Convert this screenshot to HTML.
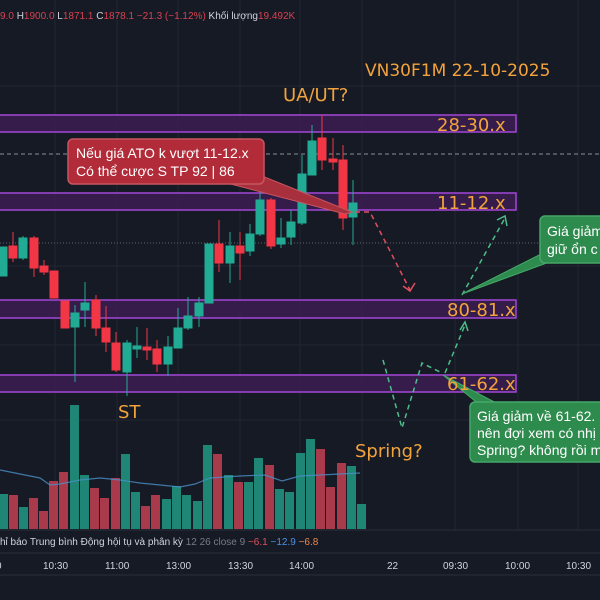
<!DOCTYPE html>
<html><head><meta charset="utf-8"><style>
html,body{margin:0;padding:0;background:#161a25;}
svg{display:block;font-family:"Liberation Sans","DejaVu Sans",sans-serif;}
</style></head><body>
<svg width="600" height="600" viewBox="0 0 600 600" xmlns="http://www.w3.org/2000/svg">
<rect width="600" height="600" fill="#161a25"/>
<g stroke="#222632" stroke-width="1">
<line x1="55" y1="0" x2="55" y2="530"/><line x1="117" y1="0" x2="117" y2="530"/><line x1="178" y1="0" x2="178" y2="530"/><line x1="240" y1="0" x2="240" y2="530"/><line x1="300" y1="0" x2="300" y2="530"/><line x1="362" y1="0" x2="362" y2="530"/><line x1="455" y1="0" x2="455" y2="530"/><line x1="518" y1="0" x2="518" y2="530"/><line x1="578" y1="0" x2="578" y2="530"/>
<line x1="0" y1="86" x2="600" y2="86"/><line x1="0" y1="266" x2="600" y2="266"/><line x1="0" y1="345" x2="600" y2="345"/><line x1="0" y1="420" x2="600" y2="420"/>
</g>
<text x="0" y="19" font-size="10" fill="#d9414f">9.0 <tspan fill="#d1d4dc">H</tspan>1900.0 <tspan fill="#d1d4dc">L</tspan>1871.1 <tspan fill="#d1d4dc">C</tspan>1878.1 −21.3 (−1.12%) <tspan fill="#d1d4dc">Khối lượng</tspan>19.492K</text>
<g fill="#3b1d52" fill-opacity="0.85" stroke="#a347d6" stroke-width="1.5">
<rect x="-2" y="115" width="518" height="17"/>
<rect x="-2" y="193" width="518" height="17"/>
<rect x="-2" y="300" width="518" height="18"/>
<rect x="-2" y="375" width="518" height="17"/>
</g>
<line x1="0" y1="154" x2="600" y2="154" stroke="#8a8e99" stroke-dasharray="4,3" stroke-width="1"/>
<line x1="0" y1="243" x2="600" y2="243" stroke="#5d616b" stroke-dasharray="1,2" stroke-width="1"/>
<g stroke-width="1">
<g stroke="#22ab94" fill="#22ab94"><rect x="-1" y="247" width="8" height="29"/></g>
<g stroke="#f23645" fill="#f23645"><line x1="13" y1="232" x2="13" y2="262"/><rect x="9" y="246" width="8" height="12"/></g>
<g stroke="#22ab94" fill="#22ab94"><line x1="23" y1="236" x2="23" y2="260"/><rect x="19" y="238" width="8" height="20"/></g>
<g stroke="#f23645" fill="#f23645"><line x1="34" y1="236" x2="34" y2="277"/><rect x="30" y="238" width="8" height="30"/></g>
<g stroke="#f23645" fill="#f23645"><line x1="44" y1="260" x2="44" y2="275"/><rect x="40" y="266" width="8" height="6"/></g>
<g stroke="#f23645" fill="#f23645"><rect x="50" y="271" width="8" height="27"/></g>
<g stroke="#f23645" fill="#f23645"><rect x="61" y="301" width="8" height="27"/></g>
<g stroke="#22ab94" fill="#22ab94"><line x1="75" y1="305" x2="75" y2="382"/><rect x="71" y="313" width="8" height="14"/></g>
<g stroke="#22ab94" fill="#22ab94"><line x1="85" y1="282" x2="85" y2="327"/><rect x="81" y="303" width="8" height="7"/></g>
<g stroke="#f23645" fill="#f23645"><line x1="96" y1="295" x2="96" y2="336"/><rect x="92" y="300" width="8" height="28"/></g>
<g stroke="#f23645" fill="#f23645"><line x1="106" y1="306" x2="106" y2="352"/><rect x="102" y="328" width="8" height="14"/></g>
<g stroke="#f23645" fill="#f23645"><line x1="116" y1="332" x2="116" y2="372"/><rect x="112" y="343" width="8" height="27"/></g>
<g stroke="#22ab94" fill="#22ab94"><line x1="127" y1="340" x2="127" y2="396"/><rect x="123" y="343" width="8" height="29"/></g>
<g stroke="#22ab94" fill="#22ab94"><line x1="137" y1="327" x2="137" y2="358"/><rect x="133" y="346" width="8" height="3"/></g>
<g stroke="#f23645" fill="#f23645"><line x1="147" y1="328" x2="147" y2="360"/><rect x="143" y="347" width="8" height="3"/></g>
<g stroke="#f23645" fill="#f23645"><line x1="157" y1="340" x2="157" y2="372"/><rect x="153" y="349" width="8" height="15"/></g>
<g stroke="#22ab94" fill="#22ab94"><line x1="168" y1="336" x2="168" y2="376"/><rect x="164" y="347" width="8" height="17"/></g>
<g stroke="#22ab94" fill="#22ab94"><line x1="178" y1="308" x2="178" y2="348"/><rect x="174" y="328" width="8" height="20"/></g>
<g stroke="#22ab94" fill="#22ab94"><line x1="188" y1="297" x2="188" y2="330"/><rect x="184" y="316" width="8" height="12"/></g>
<g stroke="#22ab94" fill="#22ab94"><line x1="199" y1="297" x2="199" y2="327"/><rect x="195" y="303" width="8" height="13"/></g>
<g stroke="#22ab94" fill="#22ab94"><rect x="205" y="244" width="8" height="59"/></g>
<g stroke="#f23645" fill="#f23645"><line x1="219" y1="220" x2="219" y2="272"/><rect x="215" y="244" width="8" height="19"/></g>
<g stroke="#22ab94" fill="#22ab94"><line x1="230" y1="232" x2="230" y2="283"/><rect x="226" y="246" width="8" height="17"/></g>
<g stroke="#f23645" fill="#f23645"><line x1="240" y1="232" x2="240" y2="280"/><rect x="236" y="246" width="8" height="7"/></g>
<g stroke="#22ab94" fill="#22ab94"><line x1="250" y1="224" x2="250" y2="256"/><rect x="246" y="234" width="8" height="17"/></g>
<g stroke="#22ab94" fill="#22ab94"><line x1="260" y1="188" x2="260" y2="236"/><rect x="256" y="200" width="8" height="34"/></g>
<g stroke="#f23645" fill="#f23645"><line x1="271" y1="198" x2="271" y2="249"/><rect x="267" y="200" width="8" height="46"/></g>
<g stroke="#22ab94" fill="#22ab94"><line x1="281" y1="218" x2="281" y2="248"/><rect x="277" y="238" width="8" height="6"/></g>
<g stroke="#22ab94" fill="#22ab94"><line x1="291" y1="210" x2="291" y2="245"/><rect x="287" y="222" width="8" height="15"/></g>
<g stroke="#22ab94" fill="#22ab94"><line x1="302" y1="155" x2="302" y2="225"/><rect x="298" y="174" width="8" height="49"/></g>
<g stroke="#22ab94" fill="#22ab94"><line x1="312" y1="125" x2="312" y2="175"/><rect x="308" y="141" width="8" height="34"/></g>
<g stroke="#f23645" fill="#f23645"><line x1="322" y1="115" x2="322" y2="170"/><rect x="318" y="138" width="8" height="22"/></g>
<g stroke="#f23645" fill="#f23645"><line x1="333" y1="138" x2="333" y2="170"/><rect x="329" y="159" width="8" height="3"/></g>
<g stroke="#f23645" fill="#f23645"><line x1="343" y1="145" x2="343" y2="230"/><rect x="339" y="160" width="8" height="58"/></g>
<g stroke="#22ab94" fill="#22ab94"><line x1="353" y1="180" x2="353" y2="245"/><rect x="349" y="203" width="8" height="14"/></g>
</g>
<polygon points="200,176 262,176 352,212 345,214" fill="#a8303c" stroke="#c85560" stroke-width="1"/>
<rect x="68" y="139" width="196" height="45" rx="5" fill="#b22b38" stroke="#c85560" stroke-width="1.5"/>
<text x="76" y="158" font-size="14" fill="#ffffff">Nếu giá ATO k vượt 11-12.x</text>
<text x="76" y="176" font-size="14" fill="#ffffff">Có thể cược S TP 92 | 86</text>
<polyline points="355,212 370,212 410,290" fill="none" stroke="#e0505e" stroke-width="1.5" stroke-dasharray="5,4"/>
<polyline points="403,286 410,291 415,283" fill="none" stroke="#e0505e" stroke-width="1.5"/>
<polyline points="383,360 402,428 422,363 440,372" fill="none" stroke="#4dbd8a" stroke-width="1.5" stroke-dasharray="5,4"/>
<polyline points="445,373 465,325" fill="none" stroke="#4dbd8a" stroke-width="1.5" stroke-dasharray="5,4"/>
<polyline points="460,330 465,322 468,331" fill="none" stroke="#4dbd8a" stroke-width="1.5"/>
<polyline points="462,295 505,218" fill="none" stroke="#4dbd8a" stroke-width="1.5" stroke-dasharray="5,4"/>
<polyline points="497,220 505,216 507,226" fill="none" stroke="#4dbd8a" stroke-width="1.5"/>
<polygon points="462,294 545,252 555,260" fill="#2e8b4e" stroke="#45a868" stroke-width="1"/>
<rect x="540" y="216" width="70" height="47" rx="5" fill="#2e8b4e" stroke="#45a868" stroke-width="1.5"/>
<text x="547" y="236" font-size="14" fill="#ffffff">Giá giảm</text>
<text x="547" y="254" font-size="14" fill="#ffffff">giữ ổn c</text>
<polygon points="443,375 480,405 500,405" fill="#2e8b4e" stroke="#45a868" stroke-width="1"/>
<rect x="470" y="402" width="140" height="60" rx="5" fill="#2e8b4e" stroke="#45a868" stroke-width="1.5"/>
<text x="477" y="421" font-size="14" fill="#ffffff">Giá giảm về 61-62.</text>
<text x="477" y="438" font-size="14" fill="#ffffff">nên đợi xem có nhị</text>
<text x="477" y="455" font-size="14" fill="#ffffff">Spring? không rồi m</text>
<g fill="#f3a33b" font-size="18" font-family="'DejaVu Sans',sans-serif">
<text x="365" y="76" font-size="17">VN30F1M 22-10-2025</text>
<text x="283" y="101">UA/UT?</text>
<text x="437" y="131">28-30.x</text>
<text x="437" y="209">11-12.x</text>
<text x="447" y="316">80-81.x</text>
<text x="447" y="390">61-62.x</text>
<text x="118" y="418">ST</text>
<text x="355" y="457">Spring?</text>
</g>
<g fill="#1f8574">
<rect x="-1" y="494" width="9" height="35"/><rect x="19" y="507" width="9" height="22"/><rect x="70" y="405" width="9" height="124"/><rect x="80" y="475" width="9" height="54"/><rect x="121" y="454" width="9" height="75"/><rect x="131" y="492" width="9" height="37"/><rect x="162" y="499" width="9" height="30"/><rect x="172" y="486" width="9" height="43"/><rect x="182" y="495" width="9" height="34"/><rect x="193" y="501" width="9" height="28"/><rect x="203" y="445" width="9" height="84"/><rect x="224" y="475" width="9" height="54"/><rect x="244" y="482" width="9" height="47"/><rect x="254" y="458" width="9" height="71"/><rect x="275" y="489" width="9" height="40"/><rect x="285" y="492" width="9" height="37"/><rect x="296" y="453" width="9" height="76"/><rect x="306" y="439" width="9" height="90"/><rect x="347" y="466" width="9" height="63"/><rect x="357" y="504" width="9" height="25"/>
</g>
<g fill="#a83a4c">
<rect x="9" y="495" width="9" height="34"/><rect x="29" y="498" width="9" height="31"/><rect x="39" y="511" width="9" height="18"/><rect x="49" y="481" width="9" height="48"/><rect x="59" y="472" width="9" height="57"/><rect x="90" y="488" width="9" height="41"/><rect x="100" y="498" width="9" height="31"/><rect x="111" y="478" width="9" height="51"/><rect x="141" y="506" width="9" height="23"/><rect x="151" y="495" width="9" height="34"/><rect x="213" y="454" width="9" height="75"/><rect x="234" y="482" width="9" height="47"/><rect x="265" y="465" width="9" height="64"/><rect x="316" y="449" width="9" height="80"/><rect x="326" y="487" width="9" height="42"/><rect x="337" y="463" width="9" height="66"/>
</g>
<polyline points="0,470 20,474 40,478 50,485 60,484 80,480 100,478 120,480 140,483 160,485 180,487 195,484 210,478 240,476 265,475 282,481 300,476 320,475 340,474 360,473" fill="none" stroke="#4a90c8" stroke-width="1.2" opacity="0.8"/>
<line x1="0" y1="530" x2="600" y2="530" stroke="#2a2e39"/>
<line x1="0" y1="553" x2="600" y2="553" stroke="#2a2e39"/>
<line x1="0" y1="575" x2="600" y2="575" stroke="#2a2e39"/>
<text x="0" y="545" font-size="10" fill="#d1d4dc">hỉ báo Trung bình Động hội tụ và phân kỳ <tspan fill="#787b86">12 26 close 9</tspan> <tspan fill="#e0505e">−6.1</tspan> <tspan fill="#4a90e2">−12.9</tspan> <tspan fill="#f0864a">−6.8</tspan></text>
<g font-size="10" fill="#d1d4dc">
<text x="-4" y="569">0</text><text x="43" y="569">10:30</text><text x="105" y="569">11:00</text><text x="166" y="569">13:00</text><text x="228" y="569">13:30</text><text x="289" y="569">14:00</text><text x="387" y="569">22</text><text x="443" y="569">09:30</text><text x="505" y="569">10:00</text><text x="566" y="569">10:30</text>
</g>
</svg>
</body></html>
